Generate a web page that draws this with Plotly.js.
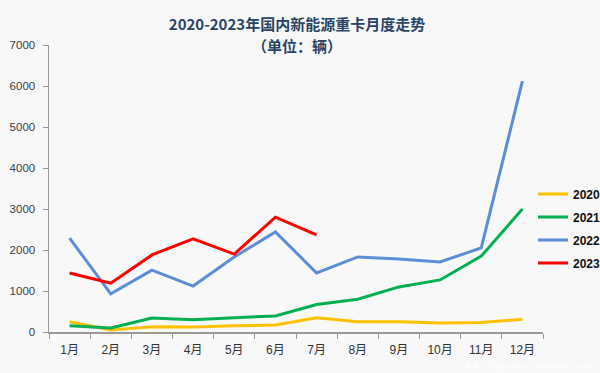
<!DOCTYPE html>
<html>
<head>
<meta charset="utf-8">
<script src="https://cdn.plot.ly/plotly-3.0.1.min.js"></script>
<style>html,body{margin:0;padding:0;background:#f8f8f8;}#chart{width:600px;height:373px;}</style>
</head>
<body>
<div id="chart"></div>
<script>
const months = ["1月","2月","3月","4月","5月","6月","7月","8月","9月","10月","11月","12月"];
const months2023 = ["1月","2月","3月","4月","5月","6月","7月"];
const v2020 = [250, 50, 130, 120, 150, 170, 350, 250, 250, 220, 230, 310];
const v2021 = [150, 100, 340, 300, 350, 390, 670, 800, 1100, 1270, 1850, 3000];
const v2022 = [2290, 930, 1510, 1120, 1830, 2440, 1440, 1830, 1780, 1710, 2050, 6120];
const v2023 = [1440, 1190, 1880, 2270, 1900, 2800, 2370];
const yTicks = [0, 1000, 2000, 3000, 4000, 5000, 6000, 7000];

const FONT = "Liberation Sans, Arial, Noto Sans CJK SC, sans-serif";
const CJK = "Noto Sans CJK SC, Liberation Sans, sans-serif";
function tr(name, x, y, color) {
  return {type: "scatter", mode: "lines", name: name, x: x, y: y, legendgroup: name,
          line: {color: color, width: 3}, hoverinfo: "skip"};
}
const data = [
  tr("2020", months, v2020, "#FFC000"),
  tr("2021", months, v2021, "#00B050"),
  tr("2022", months, v2022, "#5B8ED6"),
  tr("2023", months2023, v2023, "#FF0000")
];
const layout = {
  width: 600, height: 373,
  paper_bgcolor: "#f8f8f8", plot_bgcolor: "#f8f8f8",
  margin: {l: 49, r: 57, t: 45, b: 41, autoexpand: false},
  font: {family: FONT, size: 11, color: "#404040"},
  title: {text: "<b>2020-2023年国内新能源重卡月度走势</b>",
          font: {family: CJK, size: 15, color: "#2a4466"},
          x: 297/600, xanchor: "center", xref: "container",
          y: 1 - 25/373, yanchor: "middle", yref: "container"},
  xaxis: {type: "category", categoryarray: months, range: [-0.5, 11.5],
          showline: true, linecolor: "#999", linewidth: 1.5, showgrid: false, zeroline: false,
          ticks: "outside", tickson: "boundaries", ticklen: 5, tickcolor: "#999",
          ticklabelstandoff: 6,
          tickfont: {family: FONT, size: 12, color: "#333"}},
  yaxis: {range: [0, 7000], tickvals: yTicks, showline: true, linecolor: "#999", linewidth: 1.5,
          showgrid: false, zeroline: false, ticks: "outside", ticklen: 5, tickcolor: "#999",
          ticklabelstandoff: 5,
          tickfont: {family: FONT, size: 11.5, color: "#404040"}},
  showlegend: true,
  legend: {xref: "container", yref: "container", x: 533/600, y: 1 - 179.4/373,
           xanchor: "left", yanchor: "top", bgcolor: "rgba(0,0,0,0)",
           font: {family: FONT, size: 12, color: "#111", weight: "bold"},
           traceorder: "grouped", tracegroupgap: 4, itemwidth: 30},
  annotations: [
    {text: "<b>（单位：辆）</b>", xref: "paper", yref: "paper",
     x: (297-49)/494, y: 1 + (45-46)/287, xanchor: "center", yanchor: "middle", showarrow: false,
     font: {family: CJK, size: 15, color: "#2a4466"}},
    {text: "卡车之家 www.360che.com", xref: "paper", yref: "paper",
     x: (594-49)/494, y: -(373-332)/287, xanchor: "right", yanchor: "bottom", showarrow: false,
     borderpad: 0, height: 12, valign: "middle",
     font: {family: CJK, size: 10.5, color: "#ffffff"}}]
};
Plotly.newPlot("chart", data, layout, {displayModeBar: false, staticPlot: true});
</script>
</body>
</html>
